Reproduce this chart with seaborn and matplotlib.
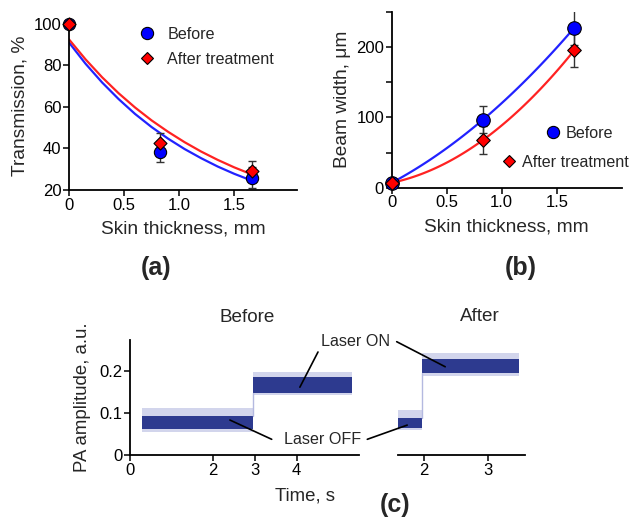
import matplotlib.pyplot as plt
import seaborn as sns
import numpy as np
from matplotlib.lines import Line2D
from matplotlib.ticker import MultipleLocator

sns.set_style('ticks')
plt.rcParams['font.family'] = ['Liberation Sans', 'DejaVu Sans']

# (a) transmission vs skin thickness
thickness = [0, 0.83, 1.66]
trans_before = [100, 38.5, 26]
trans_after = [100, 42.5, 29]
trans_err_before = [0, 5, 5]
trans_err_after = [0, 5, 5]
# fitted curves
fit_x = [0, 0.15, 0.3, 0.45, 0.6, 0.75, 0.9, 1.05, 1.2, 1.35, 1.5, 1.65]
fit_before = [91.0, 80.8, 71.8, 63.8, 56.6, 50.3, 44.7, 39.7, 35.3, 31.3, 27.8, 24.7]
fit_after = [92.5, 82.9, 74.3, 66.6, 59.7, 53.5, 48.0, 43.0, 38.5, 34.5, 30.9, 27.7]

# (b) beam width vs skin thickness
width_before = [7, 97, 228]
width_after = [7, 68, 196]
width_err_before = [0, 19, 25]
width_err_after = [0, 20, 24]

# (c) PA amplitude traces: band edges (outer low, inner low, inner high, outer high)
before_t = [0.3, 2.95, 5.33]
before_off = [0.055, 0.061, 0.093, 0.111]
before_on = [0.142, 0.148, 0.184, 0.198]
after_t = [1.58, 1.97, 3.5]
after_off = [0.059, 0.063, 0.087, 0.107]
after_on = [0.187, 0.194, 0.227, 0.243]

BLUE = '#0000ff'
RED = '#ff0000'
TRACE = '#2d3a8f'
TRACE_LIGHT = '#b4b9e0'
W, H = 629, 519


def fpx(x, y):
    return (x / W, 1 - y / H)


def rect(left, top, right, bottom):
    return [left / W, 1 - bottom / H, (right - left) / W, (bottom - top) / H]


def style_axis(ax):
    sns.despine(ax=ax)
    for s in ['left', 'bottom']:
        ax.spines[s].set_linewidth(1.3)
        ax.spines[s].set_color('black')
    ax.tick_params(which='both', direction='out', length=4, width=1.1,
                   labelsize=12, colors='black', pad=1.5)
    ax.set_facecolor('white')


fig = plt.figure(figsize=(W / 100, H / 100), dpi=100)

# ---------- (a) ----------
ax1 = fig.add_axes(rect(69, 20.7, 297, 190))
sns.lineplot(x=fit_x, y=fit_before, color='#2222ff', lw=1.6, ax=ax1)
sns.lineplot(x=fit_x, y=fit_after, color='#ff2222', lw=1.6, ax=ax1)
ax1.errorbar(thickness[1:], trans_before[1:], yerr=trans_err_before[1:], fmt='none',
             ecolor='#333333', elinewidth=1, capsize=3, capthick=1)
ax1.errorbar(thickness[1:], trans_after[1:], yerr=trans_err_after[1:], fmt='none',
             ecolor='#333333', elinewidth=1, capsize=3, capthick=1)
sns.scatterplot(x=thickness, y=trans_before, marker='o', s=78, color=BLUE,
                edgecolor='black', linewidth=0.8, ax=ax1, clip_on=False, zorder=5)
sns.scatterplot(x=thickness, y=trans_after, marker='D', s=44, color=RED,
                edgecolor='black', linewidth=0.8, ax=ax1, clip_on=False, zorder=6)
ax1.set_xlim(0, 2.07)
ax1.set_ylim(20, 101.5)
ax1.set_xticks([0, 0.5, 1.0, 1.5])
ax1.set_xticklabels(['0', '0.5', '1.0', '1.5'])
ax1.set_yticks([20, 40, 60, 80, 100])
style_axis(ax1)
ax1.set_xlabel('Skin thickness, mm', fontsize=13.8, labelpad=6)
ax1.set_ylabel('Transmission, %', fontsize=13.8, labelpad=4)
h_before = Line2D([], [], ls='none', marker='o', markersize=8.8, markerfacecolor=BLUE,
                  markeredgecolor='black', markeredgewidth=0.8)
h_after = Line2D([], [], ls='none', marker='D', markersize=6.6, markerfacecolor=RED,
                 markeredgecolor='black', markeredgewidth=0.8)
ax1.legend([h_before, h_after], ['Before', 'After treatment'], loc='upper left',
           bbox_to_anchor=fpx(139, 27), bbox_transform=fig.transFigure,
           frameon=False, fontsize=11.6, handlelength=1.0, handletextpad=0.75,
           labelspacing=0.6, borderpad=0, borderaxespad=0)

# ---------- (b) ----------
ax2 = fig.add_axes(rect(391.7, 11.7, 621.7, 187.7))
sns.regplot(x=thickness, y=width_before, order=2, ci=None, scatter=False, truncate=True,
            line_kws=dict(color='#2222ff', lw=1.6), ax=ax2)
sns.regplot(x=thickness, y=width_after, order=2, ci=None, scatter=False, truncate=True,
            line_kws=dict(color='#ff2222', lw=1.6), ax=ax2)
ax2.errorbar(thickness[1:], width_before[1:], yerr=width_err_before[1:], fmt='none',
             ecolor='#333333', elinewidth=1, capsize=3, capthick=1)
ax2.errorbar(thickness[1:], width_after[1:], yerr=width_err_after[1:], fmt='none',
             ecolor='#333333', elinewidth=1, capsize=3, capthick=1)
sns.scatterplot(x=thickness, y=width_before, marker='o', s=95, color=BLUE,
                edgecolor='black', linewidth=0.8, ax=ax2, clip_on=False, zorder=5)
sns.scatterplot(x=thickness, y=width_after, marker='D', s=48, color=RED,
                edgecolor='black', linewidth=0.8, ax=ax2, clip_on=False, zorder=6)
ax2.set_xlim(0, 2.09)
ax2.set_ylim(0, 250.7)
ax2.set_xticks([0, 0.5, 1.0, 1.5])
ax2.set_xticklabels(['0', '0.5', '1.0', '1.5'])
ax2.yaxis.set_major_locator(MultipleLocator(100))
ax2.yaxis.set_minor_locator(MultipleLocator(50))
style_axis(ax2)
ax2.set_xlabel('Skin thickness, mm', fontsize=13.8, labelpad=6)
ax2.set_ylabel('Beam width, μm', fontsize=13.8, labelpad=4)
leg_b1 = ax2.legend([h_before], ['Before'], loc='upper left',
                    bbox_to_anchor=fpx(545, 126), bbox_transform=fig.transFigure,
                    frameon=False, fontsize=11.6, handlelength=1.0, handletextpad=0.25,
                    borderpad=0, borderaxespad=0)
ax2.add_artist(leg_b1)
ax2.legend([h_after], ['After treatment'], loc='upper left',
           bbox_to_anchor=fpx(501, 155), bbox_transform=fig.transFigure,
           frameon=False, fontsize=11.6, handlelength=1.0, handletextpad=0.3,
           borderpad=0, borderaxespad=0)

# ---------- (c) before ----------
ax3 = fig.add_axes(rect(130, 340, 359, 455))
for (t0, t1), band in [((before_t[0], before_t[1]), before_off),
                       ((before_t[1], before_t[2]), before_on)]:
    ax3.fill_between([t0, t1], band[0], band[3], color=TRACE_LIGHT, lw=0, alpha=0.6)
    ax3.fill_between([t0, t1], band[1], band[2], color=TRACE, lw=0)
ax3.plot([before_t[1], before_t[1]], [before_off[2], before_on[1]], color=TRACE_LIGHT, lw=1)
ax3.set_xlim(0, 5.5)
ax3.set_ylim(0, 0.273)
ax3.set_xticks([0, 2, 3, 4])
ax3.set_yticks([0, 0.1, 0.2])
ax3.set_yticklabels(['0', '0.1', '0.2'])
style_axis(ax3)
ax3.set_ylabel('PA amplitude, a.u.', fontsize=13.4, labelpad=6)

# ---------- (c) after ----------
ax4 = fig.add_axes(rect(397.7, 340, 525, 455))
for (t0, t1), band in [((after_t[0], after_t[1]), after_off),
                       ((after_t[1], after_t[2]), after_on)]:
    ax4.fill_between([t0, t1], band[0], band[3], color=TRACE_LIGHT, lw=0, alpha=0.6)
    ax4.fill_between([t0, t1], band[1], band[2], color=TRACE, lw=0)
ax4.plot([after_t[1], after_t[1]], [after_off[2], after_on[1]], color=TRACE_LIGHT, lw=1)
ax4.set_xlim(1.58, 3.59)
ax4.set_ylim(0, 0.273)
ax4.set_xticks([2, 3])
ax4.set_yticks([])
style_axis(ax4)
ax4.spines['left'].set_visible(False)

# annotations
line_kw = dict(arrowstyle='-', color='black', lw=1.2, shrinkA=0, shrinkB=0)
fig.text(*fpx(355.5, 341), 'Laser ON', fontsize=11.6, ha='center', va='center')
fig.text(*fpx(322.7, 439.3), 'Laser OFF', fontsize=11.6, ha='center', va='center')
ax3.annotate('', xy=(4.08, 0.161), xytext=fpx(318, 352), textcoords='figure fraction',
             arrowprops=line_kw, annotation_clip=False)
ax4.annotate('', xy=(2.33, 0.2095), xytext=fpx(396.7, 341.7), textcoords='figure fraction',
             arrowprops=line_kw, annotation_clip=False)
ax3.annotate('', xy=(2.40, 0.083), xytext=fpx(271.7, 439.3), textcoords='figure fraction',
             arrowprops=line_kw, annotation_clip=False)
ax4.annotate('', xy=(1.73, 0.071), xytext=fpx(367.3, 439.3), textcoords='figure fraction',
             arrowprops=line_kw, annotation_clip=False)

fig.text(*fpx(247, 318), 'Before', fontsize=13.6, ha='center', va='center')
fig.text(*fpx(480, 316.7), 'After', fontsize=13.6, ha='center', va='center')
fig.text(*fpx(305, 496), 'Time, s', fontsize=13.4, ha='center', va='center')

fig.text(*fpx(156, 268), '(a)', fontsize=18, fontweight='bold', ha='center', va='center')
fig.text(*fpx(521, 268), '(b)', fontsize=18, fontweight='bold', ha='center', va='center')
fig.text(*fpx(395, 505), '(c)', fontsize=18, fontweight='bold', ha='center', va='center')

fig.savefig('out.png', dpi=100, facecolor='white')
